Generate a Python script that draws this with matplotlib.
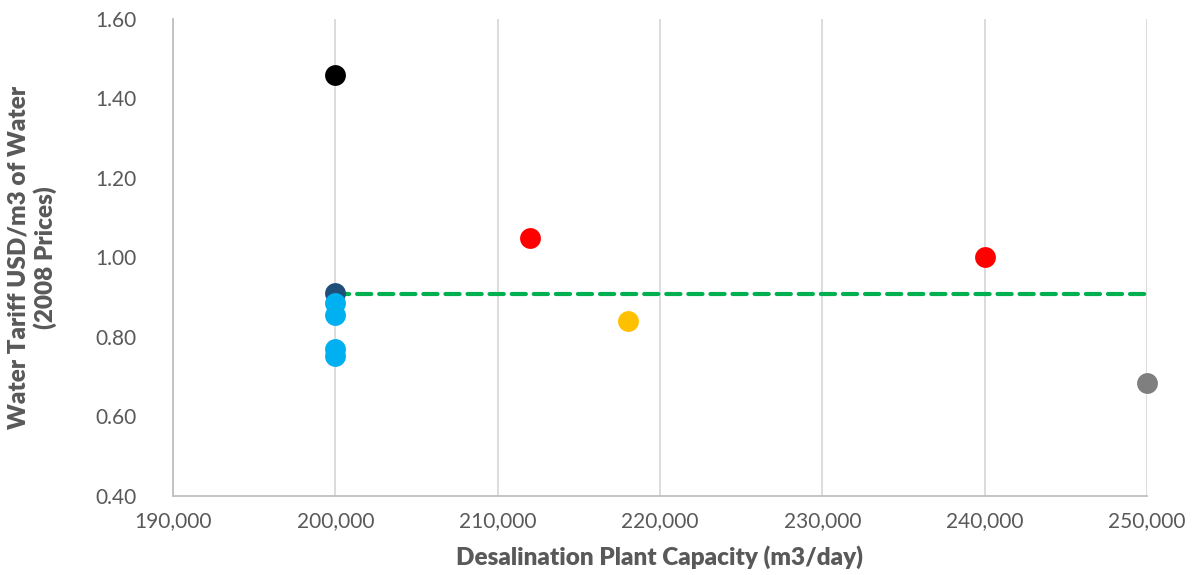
import matplotlib
matplotlib.use("Agg")
import matplotlib.pyplot as plt
from matplotlib.ticker import FuncFormatter, MultipleLocator

# Plant capacity (m3/day) and water tariff (USD/m3, 2008 prices), grouped by colour
black_x = [200000]
black_y = [1.46]
navy_x = [200000]
navy_y = [0.91]
cyan_x = [200000, 200000, 200000, 200000]
cyan_y = [0.885, 0.855, 0.77, 0.752]
red_x = [212000, 240000]
red_y = [1.05, 1.00]
yellow_x = [218000]
yellow_y = [0.84]
grey_x = [250000]
grey_y = [0.685]

# Reference tariff level
avg_x = [200000, 250000]
avg_y = [0.907, 0.907]

plt.rcParams['font.family'] = ['Lato', 'DejaVu Sans']
text_col = '#595959'

fig = plt.figure(figsize=(11.95, 5.75), dpi=100)
ax = fig.add_axes([0.1448, 0.1374, 0.8150, 0.8296])

ax.plot(avg_x, avg_y, color='#00b050', lw=3, linestyle=(0, (3.4, 1.9)),
        dash_capstyle='round', zorder=2)

s = 225
groups = [
    (black_x, black_y, '#000000', 3),
    (navy_x, navy_y, '#1f4e79', 3),
    (cyan_x, cyan_y, '#00b0f0', 4),
    (red_x, red_y, '#ff0000', 3),
    (yellow_x, yellow_y, '#ffc000', 3),
    (grey_x, grey_y, '#7f7f7f', 3),
]
for gx, gy, col, z in groups:
    ax.scatter(gx, gy, s=s, color=col, zorder=z, linewidths=0, clip_on=False)

ax.set_xlim(190000, 250000)
ax.set_ylim(0.40, 1.60)
ax.xaxis.set_major_locator(MultipleLocator(10000))
ax.yaxis.set_major_locator(MultipleLocator(0.2))
ax.xaxis.set_major_formatter(FuncFormatter(lambda v, p: f"{v:,.0f}"))
ax.yaxis.set_major_formatter(FuncFormatter(lambda v, p: f"{v:.2f}"))

ax.grid(axis='x', color='#d9d9d9', lw=1.3)
ax.set_axisbelow(True)
for side in ('top', 'right'):
    ax.spines[side].set_visible(False)
for side in ('left', 'bottom'):
    ax.spines[side].set_color('#bfbfbf')
    ax.spines[side].set_linewidth(1.3)

ax.tick_params(axis='both', length=0, labelsize=15, labelcolor=text_col)
ax.tick_params(axis='x', pad=11)
ax.tick_params(axis='y', pad=26)

ax.set_xlabel('Desalination Plant Capacity (m3/day)', fontsize=17.5,
              fontweight='heavy', color=text_col, labelpad=10)
ax.set_ylabel('Water Tariff USD/m3 of Water\n(2008 Prices)', fontsize=17.5,
              fontweight='heavy', color=text_col, labelpad=28, linespacing=1.2)

fig.savefig('out.png', dpi=100)
